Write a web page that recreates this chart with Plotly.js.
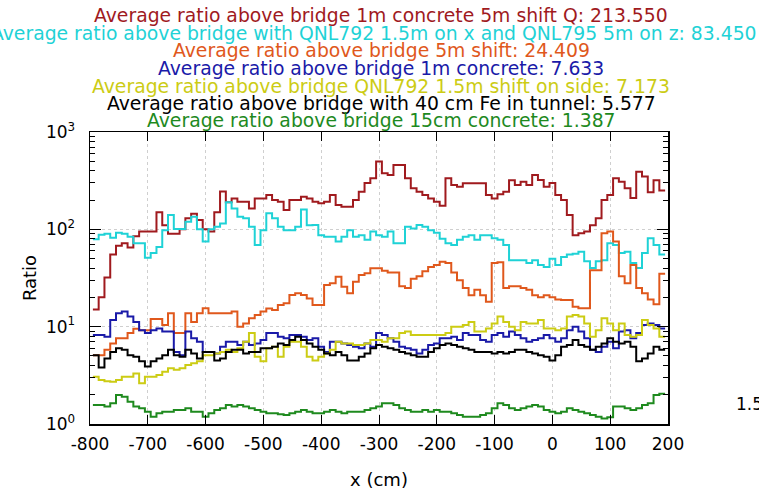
<!DOCTYPE html>
<html>
<head>
<meta charset="utf-8">
<script src="https://cdn.plot.ly/plotly-3.0.1.min.js"></script>
<style>html,body{margin:0;padding:0;background:#fff;}#chart{width:759px;height:494px;}</style>
</head>
<body>
<div id="chart"></div>
<script>
// Histogram binning (cm)
const binStart = -795;
const binWidth = 10;

const seriesNames = [
  "Average ratio above bridge 1m concrete 5m shift Q: 213.550",
  "Average ratio above bridge with QNL792 1.5m on x and QNL795 5m on z: 83.450",
  "Average ratio above bridge 5m shift: 24.409",
  "Average ratio above bridge 1m concrete: 7.633",
  "Average ratio above bridge QNL792 1.5m shift on side: 7.173",
  "Average ratio above bridge with 40 cm Fe in tunnel: 5.577",
  "Average ratio above bridge 15cm concrete: 1.387"
];
const seriesColors = ["#a01a1e", "#1fd2d6", "#e0581c", "#1a1aa8", "#cccc14", "#000000", "#1e8a1e"];

const red = [15,20,32,55,68,72,65,85,95,95, 95,150,110,90,90,100,130,145,125,100,
  95,150,245,190,208,192,192,164,208,208, 225,200,192,158,200,200,216,208,192,185,
  192,225,178,171,171,200,244,300,335,497, 376,361,458,458,334,264,244,225,208,192,
  175,335,285,274,297,297,297,297,225,208, 230,244,320,285,309,285,361,321,274,300,
  225,200,140,87,91,95,110,130,200,225, 334,309,264,210,391,350,240,320,250];
const cyan = [79,88,90,82,92,90,84,72,72,51, 57,66,98,140,101,101,120,135,100,75,
  100,106,115,190,164,135,130,106,69,98, 146,130,106,98,98,106,160,110,111,87,
  84,84,75,84,98,84,87,78,95,87, 84,95,72,72,106,102,111,106,98,92,
  80,72,69,78,84,87,78,87,87,81, 78,69,48,48,48,45,48,43,41,50,
  43,52,55,56,59,47,40,47,48,72, 69,57,59,45,40,57,81,69,55];
const orange = [5.1,5.1,5.8,6.7,7.6,7.6,8.6,9.5,9.2,9.2, 12,12,10.4,13.7,8.6,8.6,13.7,11.2,13.7,15.5,
  13.7,13.7,13.7,13.7,14.3,10,10.8,12.2,13.2,14.3, 15.4,14.8,16.7,17.4,21.2,22,21.2,19.5,16.7,16.7,
  26.8,27.9,32.6,25.7,22,29,34,35.3,39.8,39.8, 37.6,36,36,26,25,31,33,37,41,43,
  46.5,45,36,30,25,21,24,21,18,45, 46,25,26,26,25,24,21,20,21,20,
  19,18.8,18.8,16,15.5,15.5,38,38,91,95, 75,33,28,43,25,22,19,17,35];
const blue = [8.2,8.2,7.9,11.7,13.7,14.3,12.7,11.2,9.2,8.6, 9.2,9.6,8.9,8.9,5.5,5.1,8.9,7.6,7.0,5.5,
  5.5,5.3,6.2,7.0,7.0,6.5,7.0,6.5,6.7,7.3, 8.6,8.6,7.9,7.6,8.2,8.2,7.9,7.3,7.6,6.2,
  5.5,7.0,7.0,6.7,6.5,6.2,6.0,6.7,6.2,8.6, 8.2,7.6,7.0,6.2,6.0,5.8,5.3,5.8,6.5,6.7,
  7.6,7.6,7.9,7.3,8.6,8.2,8.2,7.3,7.0,8.2, 8.6,7.9,8.9,8.2,7.6,7.0,7.3,7.6,8.2,7.6,
  7.0,7.6,9.2,10,8.9,7.6,5.8,5.5,6.2,7.0, 6.0,8.9,9.2,7.6,8.6,10.4,10.8,10.4,9.6];
const yellow = [3.06,2.83,2.75,2.72,2.83,3.06,3.06,3.3,2.62,3.06, 3.06,3.19,3.45,3.73,3.6,3.73,4.04,4.2,4.4,5.1,
  5.1,5.3,5.5,5.8,5.5,6.0,7.0,8.6,4.9,4.4, 6.0,6.2,4.9,6.2,7.0,7.0,6.2,4.9,4.5,4.9,
  5.3,5.8,7.0,6.7,6.7,6.5,6.5,6.7,7.3,7.3, 7.0,7.6,7.6,8.6,8.9,8.2,8.2,8.2,8.2,8.2,
  8.2,8.6,10,10,10.4,11.2,8.9,8.9,9.6,10.8, 12.7,11.2,10,9.2,11.2,10.8,10.8,11.7,9.6,9.6,
  9.2,9.6,12.7,13.2,12.7,10.8,7.9,9.2,12.2,10.8, 9.2,10.8,8.2,7.9,8.2,11.7,10.4,9.6,7.9];
const black = [5.1,3.8,4.7,5.5,6.0,5.8,5.1,4.9,4.4,3.9, 4.4,4.7,5.1,5.8,5.1,4.9,5.8,5.3,4.7,5.5,
  5.5,4.5,4.7,5.5,5.8,5.8,5.3,5.5,5.5,6.0, 6.0,6.2,6.7,6.5,7.3,7.9,7.3,6.7,6.2,5.8,
  5.3,5.1,5.5,5.1,4.5,4.5,4.9,5.3,6.0,6.5, 6.2,6.0,5.8,5.5,5.3,5.1,4.9,4.9,5.5,6.0,
  6.5,6.7,6.5,6.2,6.0,5.8,5.5,5.5,5.5,5.3, 5.5,5.3,5.5,5.8,5.8,5.5,5.3,5.1,4.9,4.5,
  5.1,6.2,6.5,7.3,6.5,6.2,5.8,6.2,6.7,7.6, 7.0,6.7,7.0,6.2,4.4,4.7,5.3,6.2,5.8];
const green = [1.57,1.57,1.51,1.63,1.99,1.91,1.69,1.51,1.45,1.34, 1.19,1.29,1.34,1.34,1.39,1.39,1.45,1.34,1.34,1.19,
  1.29,1.39,1.45,1.57,1.51,1.57,1.51,1.45,1.39,1.34, 1.29,1.29,1.26,1.24,1.29,1.34,1.39,1.34,1.29,1.29,
  1.34,1.39,1.34,1.29,1.34,1.34,1.34,1.39,1.45,1.51, 1.63,1.63,1.57,1.45,1.39,1.34,1.34,1.39,1.34,1.39,
  1.34,1.34,1.29,1.24,1.19,1.19,1.19,1.24,1.29,1.45, 1.63,1.57,1.45,1.39,1.45,1.51,1.57,1.51,1.39,1.34,
  1.29,1.34,1.45,1.39,1.34,1.29,1.24,1.19,1.14,1.17, 1.51,1.51,1.45,1.39,1.45,1.57,1.63,1.99,2.04];

const seriesValues = [red, cyan, orange, blue, yellow, black, green];

const xTickVals = [-800, -700, -600, -500, -400, -300, -200, -100, 0, 100, 200];
const xTickText = ["-800", "-700", "-600", "-500", "-400", "-300", "-200", "-100", "0", "100", "200"];
const yTickVals = [1, 10, 100, 1000];
const yTickText = ["10<sup>0</sup>", "10<sup>1</sup>", "10<sup>2</sup>", "10<sup>3</sup>"];
const yMinorVals = [];
for (let d = 1; d <= 100; d *= 10) for (let k = 2; k <= 9; k++) yMinorVals.push(k * d);

function stepTrace(vals, color) {
  const xs = [], ys = [];
  for (let i = 0; i < vals.length; i++) { xs.push(binStart + i * binWidth); ys.push(vals[i]); }
  xs.push(binStart + vals.length * binWidth); ys.push(vals[vals.length - 1]);
  return { x: xs, y: ys, type: 'scatter', mode: 'lines', line: { shape: 'hv', color: color, width: 2 }, hoverinfo: 'skip', showlegend: false };
}

const traces = seriesValues.map((v, i) => stepTrace(v, seriesColors[i]));

const titleFont = "DejaVu Sans, sans-serif";
const lineY = [16, 33.5, 51, 68.5, 86, 103.5, 121];
const lineCx = [381, 374, 381, 381, 381, 381, 381];
const plotTop = 132, plotBottom = 424, plotLeft = 90, plotRight = 668;
const annotations = seriesNames.map((t, i) => ({
  text: t, xref: 'paper', yref: 'paper',
  x: (lineCx[i] - plotLeft) / (plotRight - plotLeft), y: (plotBottom - lineY[i]) / (plotBottom - plotTop),
  xanchor: 'center', yanchor: 'middle', showarrow: false,
  font: { family: titleFont, size: 18.8, color: seriesColors[i] }
}));
annotations.push({ text: "1.5", xref: 'paper', yref: 'paper', x: (734 - plotLeft) / (plotRight - plotLeft), y: (plotBottom - 404) / (plotBottom - plotTop), xanchor: 'left', yanchor: 'middle', showarrow: false, font: { family: titleFont, size: 17, color: '#000' } });

const layout = {
  width: 759, height: 494,
  margin: { l: plotLeft, r: 759 - plotRight, t: plotTop, b: 494 - plotBottom },
  paper_bgcolor: '#fff', plot_bgcolor: '#fff',
  font: { family: titleFont, color: '#000' },
  xaxis: {
    range: [-800, 200], tickmode: 'array', tickvals: xTickVals, ticktext: xTickText,
    ticks: 'inside', ticklen: 9, tickcolor: '#000', mirror: 'allticks',
    showline: true, linecolor: '#000', linewidth: 1.5,
    showgrid: true, gridcolor: '#cfcfcf', griddash: 'dot', gridwidth: 1, zeroline: false,
    tickfont: { size: 17, family: titleFont }, ticklabelstandoff: 4,
    title: { text: 'x (cm)', font: { size: 18, family: titleFont }, standoff: 20 }
  },
  yaxis: {
    type: 'log', range: [0, 3], tickmode: 'array', tickvals: yTickVals, ticktext: yTickText,
    ticks: 'inside', ticklen: 11, tickcolor: '#000', mirror: 'allticks',
    showline: true, linecolor: '#000', linewidth: 1.5,
    showgrid: true, gridcolor: '#cfcfcf', griddash: 'dot', gridwidth: 1, zeroline: false,
    tickfont: { size: 17, family: titleFont }, ticklabelstandoff: 10,
    minor: { tickmode: 'array', tickvals: yMinorVals, ticks: 'inside', ticklen: 5, tickcolor: '#000', showgrid: false },
    title: { text: 'Ratio', font: { size: 18, family: titleFont }, standoff: 4 }
  },
  annotations: annotations
};

Plotly.newPlot('chart', traces, layout, { staticPlot: true, displayModeBar: false });
</script>
</body>
</html>
